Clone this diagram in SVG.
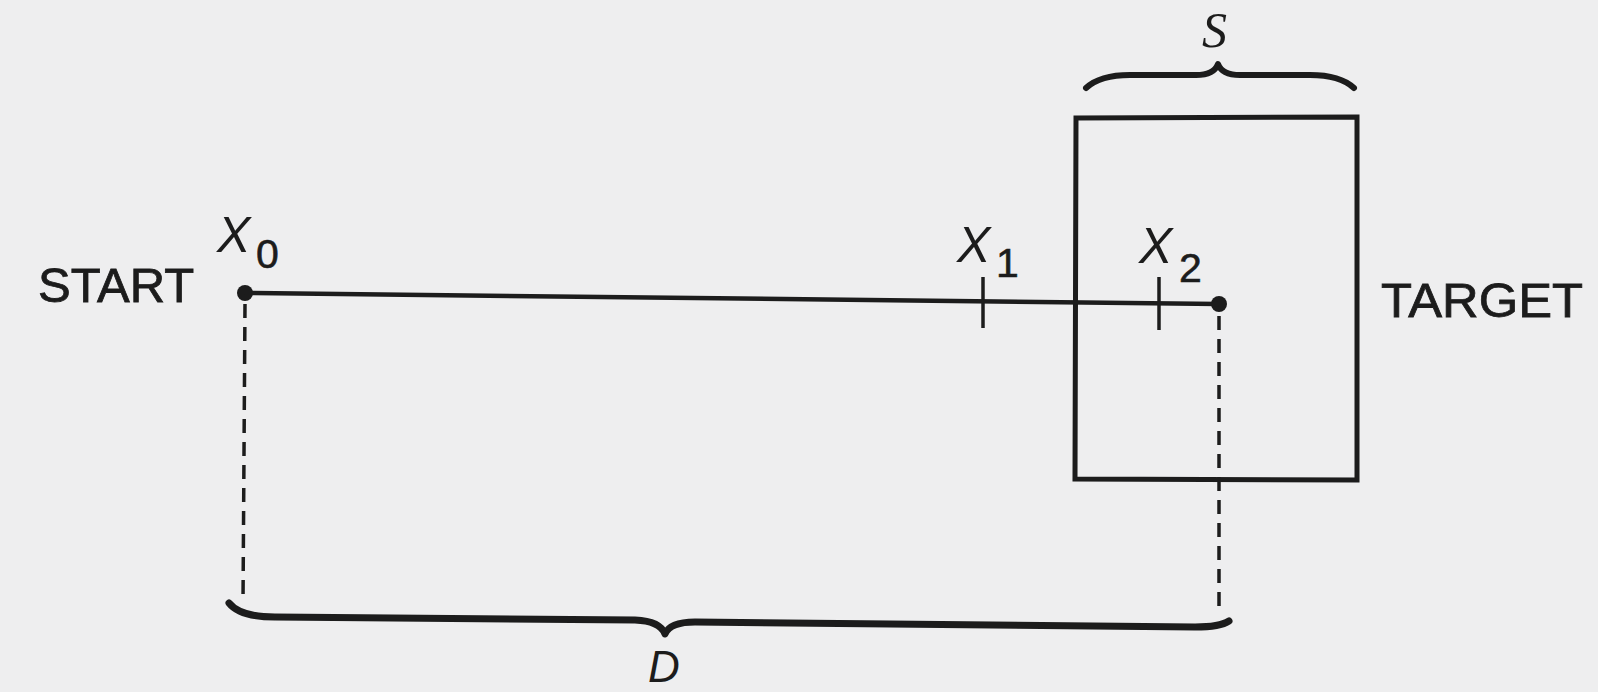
<svg xmlns="http://www.w3.org/2000/svg" width="1598" height="692" viewBox="0 0 1598 692">
<style>
.lbl{font-family:"Liberation Sans",Arial,sans-serif;fill:#1c1c1c}
.big{font-size:49px;stroke:#1c1c1c;stroke-width:0.8}
.var{font-size:50px;font-style:italic}
.sub{font-size:41px;stroke:#1c1c1c;stroke-width:0.6}
.ln{stroke:#1c1c1c;fill:none;stroke-linecap:butt}
.dash{stroke:#1c1c1c;stroke-width:3.5;stroke-dasharray:14 9;fill:none}
.brace{stroke:#1c1c1c;fill:none;stroke-linecap:round;stroke-linejoin:round}
</style>
<rect width="1598" height="692" fill="#eeeeef"/>
<g id="start">
  <text class="lbl big" x="38" y="302">START</text>
</g>
<g id="target">
  <text class="lbl big" x="1381" y="317" textLength="202" lengthAdjust="spacingAndGlyphs">TARGET</text>
</g>
<g id="target-region">
  <polygon points="1076,118 1357,117 1357,480 1075,479" class="ln" stroke-width="5"/>
</g>
<g id="x0">
  <circle cx="245" cy="293" r="8" fill="#1c1c1c"/>
  <text class="lbl var" x="217" y="252">X</text>
  <text class="lbl sub" x="256" y="268">0</text>
</g>
<g id="x1">
  <line x1="983" y1="277" x2="983" y2="328" class="ln" stroke-width="3.5"/>
  <text class="lbl var" x="957" y="262">X</text>
  <text class="lbl sub" x="996" y="277">1</text>
</g>
<g id="x2">
  <line x1="1159" y1="277" x2="1159" y2="330" class="ln" stroke-width="3.5"/>
  <text class="lbl var" x="1139" y="263">X</text>
  <text class="lbl sub" x="1179" y="282">2</text>
</g>
<g id="target-point">
  <circle cx="1219" cy="304" r="8" fill="#1c1c1c"/>
</g>
<g id="connectors">
  <line x1="245" y1="293" x2="1219" y2="304" class="ln" stroke-width="4.5"/>
  <line x1="245" y1="304" x2="243" y2="602" class="dash"/>
  <line x1="1219" y1="316" x2="1219" y2="607" class="dash"/>
</g>
<g id="s-brace">
  <path class="brace" stroke-width="6" d="M1086,88 Q1100,75 1130,75 L1196,75 Q1214,75 1218,64 Q1222,75 1240,75 L1310,75 Q1340,75 1354,88"/>
  <text x="1202" y="47" style="font-family:'Liberation Serif','Times New Roman',serif;font-style:italic;font-size:50px;fill:#1c1c1c">S</text>
</g>
<g id="d-brace">
  <path class="brace" stroke-width="7" d="M229,603 Q240,617 275,617 L635,620 Q660,621 665,634 Q670,622 695,622 L1195,627 Q1220,627 1229,621"/>
  <text class="lbl" x="648" y="682" style="font-size:44px;font-style:italic">D</text>
</g>
</svg>
